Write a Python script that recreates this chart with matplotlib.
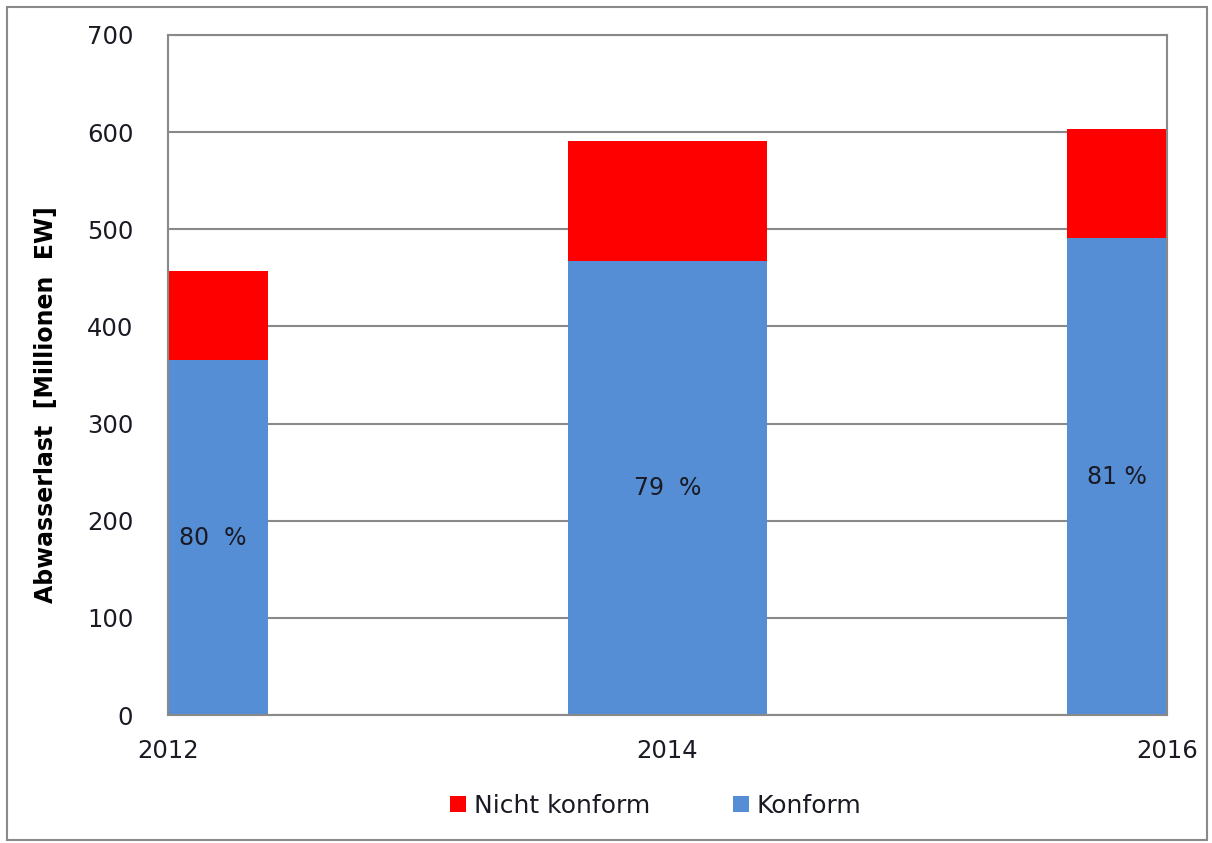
import matplotlib.pyplot as plt
from matplotlib.patches import Rectangle

# Daten (Millionen EW)
jahre = [2012, 2014, 2016]
konform = [365, 467, 491]
gesamt = [457, 591, 603]
nicht_konform = [g - k for g, k in zip(gesamt, konform)]
anteil = ["80  %", "79  %", "81 %"]

blau = '#558ED5'
rot = '#FF0000'
grau = '#898989'
textfarbe = '#1a1a24'

plt.rcParams['font.family'] = 'DejaVu Sans'

fig = plt.figure(figsize=(12.12, 8.43), dpi=100)
ax = fig.add_axes([0.1386, 0.1518, 0.9629 - 0.1386, 0.9585 - 0.1518])

ax.bar(jahre, konform, width=0.8, color=blau, label='Konform', zorder=2)
ax.bar(jahre, nicht_konform, width=0.8, bottom=konform, color=rot,
       label='Nicht konform', zorder=2)

# Prozentangaben in der Mitte des konformen Anteils
for x, k, t in zip(jahre, konform, anteil):
    xt = min(max(x, 2012.18), 2015.8)
    ax.text(xt, k / 2, t, ha='center', va='center', fontsize=17, color=textfarbe)

ax.set_xlim(2012, 2016)
ax.set_ylim(0, 700)
ax.set_xticks(jahre)
ax.set_xticklabels([str(j) for j in jahre])
ax.set_yticks(range(0, 701, 100))
ax.tick_params(axis='both', length=0, labelsize=17.5, colors=textfarbe)
ax.tick_params(axis='x', pad=17)
ax.tick_params(axis='y', pad=25)
ax.yaxis.grid(True, color=grau, linewidth=1.5, zorder=0)
ax.set_axisbelow(True)
for s in ax.spines.values():
    s.set_color(grau)
    s.set_linewidth(1.5)

ax.set_ylabel('Abwasserlast  [Millionen  EW]', fontsize=17, fontweight='bold', color='black')
ax.yaxis.set_label_coords(-0.11, 0.457)

handles, labels = ax.get_legend_handles_labels()
fig.legend(handles[::-1], labels[::-1], loc='center', bbox_to_anchor=(0.541, 0.044),
           ncol=2, frameon=False, fontsize=18, handlelength=0.65, handleheight=0.65,
           handletextpad=0.3, columnspacing=3.3, labelcolor=textfarbe)

# Rahmen um die Grafik
fig.patches.append(Rectangle((0.006, 0.004), 0.99, 0.988, transform=fig.transFigure,
                             fill=False, edgecolor=grau, linewidth=1.5))

fig.savefig('out.png', dpi=100)
